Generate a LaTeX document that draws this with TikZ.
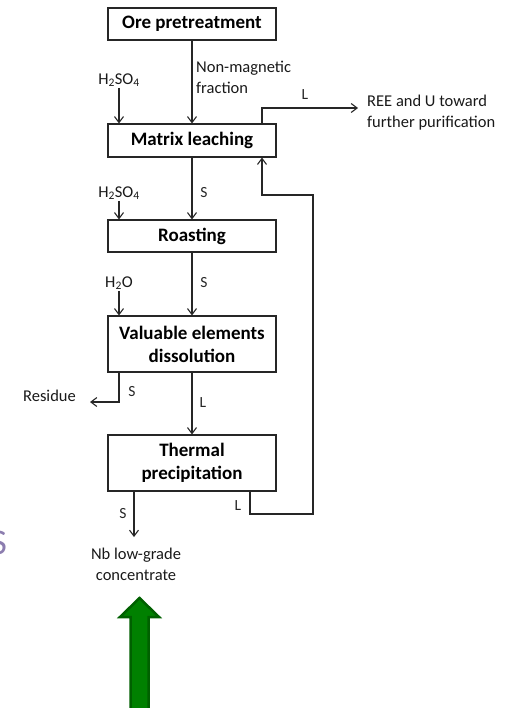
\documentclass[tikz,border=0pt]{standalone}
\usepackage{fontspec}
\setmainfont{Carlito}
\usepackage{tikz}
\usetikzlibrary{arrows.meta,positioning}
\definecolor{arrowgreen}{RGB}{0,128,0}
\definecolor{arrowedge}{RGB}{0,96,0}
\definecolor{strayviolet}{RGB}{140,125,175}
\tikzset{
  stepbox/.style={draw=black!85, line width=1.1pt, fill=white, minimum width=168pt,
    align=center, inner sep=0pt, font=\fontsize{19}{23}\selectfont\bfseries},
  flow/.style={line width=1.1pt, draw=black!85, -{Straight Barb[length=6pt,width=9pt,line width=1.1pt]}},
  txt/.style={inner sep=1pt, align=left, font=\fontsize{16.5}{21}\selectfont, text=black!90},
  tag/.style={inner sep=1pt, font=\fontsize{15.5}{18}\selectfont, text=black!85}
}
\newcommand{\reagent}[4]{
  \node[txt] (#1) at (119,#3) {#2};
  \draw[flow] (#1.south) -- (#1.south |- #4.north);
}
\begin{document}
\begin{tikzpicture}[x=1pt,y=-1pt]
\useasboundingbox (0,0) rectangle (508,708);

% process steps
\node[stepbox, minimum height=32pt] (ore) at (192,24) {Ore pretreatment};
\node[stepbox, minimum height=33pt] (leach) at (192,140.5) {Matrix leaching};
\node[stepbox, minimum height=32pt] (roast) at (192,236) {Roasting};
\node[stepbox, minimum height=56pt] (dissol) at (192,344) {Valuable elements\\dissolution};
\node[stepbox, minimum height=56pt] (thermal) at (192,463) {Thermal\\precipitation};

% main line
\draw[flow] (ore) -- (leach);
\node[txt, anchor=west] (nonmag) at (195,77) {Non-magnetic\\fraction};
\draw[flow] (leach) -- (roast);
\node[tag] (sA) at (204,193) {S};
\draw[flow] (roast) -- (dissol);
\node[tag] (sB) at (204,283) {S};
\draw[flow] (dissol) -- (thermal);
\node[tag] (lA) at (203,403) {L};

% reagents
\reagent{acidA}{H\textsubscript{2}SO\textsubscript{4}}{80}{leach}
\reagent{acidB}{H\textsubscript{2}SO\textsubscript{4}}{193}{roast}
\reagent{water}{H\textsubscript{2}O}{283}{dissol}

% leach liquor out
\coordinate (reeIn) at (358,108);
\node[txt, anchor=west] (ree) at (366,112.5) {REE and U toward\\further purification};
\draw[flow] ([xshift=70pt]leach.north) |- (reeIn);
\node[tag] (lB) at (305,95) {L};

% residue
\coordinate (resIn) at (90,402);
\node[txt, anchor=east] (residue) at (77,396) {Residue};
\draw[flow] ([xshift=-73pt]dissol.south) |- (resIn);
\node[tag] (sC) at (132,392) {S};

% recycle of liquor
\coordinate (recA) at (313,514);
\coordinate (recB) at (313,195);
\draw[flow] ([xshift=58pt]thermal.south) |- (recA) -- (recB) -| ([xshift=70pt]leach.south);
\node[tag] (lC) at (238,506) {L};

% product
\coordinate (nbIn) at (134,537);
\draw[flow] ([xshift=-58pt]thermal.south) -- (nbIn);
\node[tag] (sD) at (123,514) {S};
\node[txt, align=center] (nb) at (136,564) {Nb low-grade\\concentrate};

% green arrow
\draw[line width=2.5pt, draw=arrowedge, fill=arrowgreen]
  (139.5,598) -- (159,617) -- (148.5,617) -- (148.5,712) -- (130.5,712) -- (130.5,617) -- (120,617) -- cycle;

% stray letter at the edge
\node[anchor=east, inner sep=0pt, text=strayviolet, font=\fontsize{36}{36}\selectfont] (stray) at (7,543) {S};
\end{tikzpicture}
\end{document}
